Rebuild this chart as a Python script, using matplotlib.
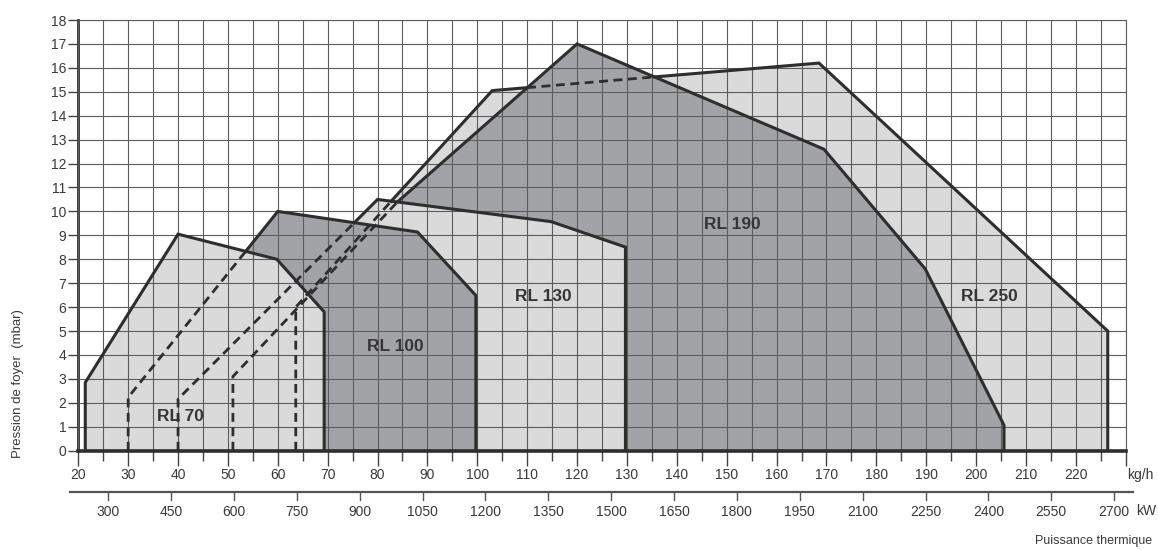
import numpy as np
import matplotlib
matplotlib.use('Agg')
import matplotlib.pyplot as plt
from matplotlib.path import Path
from matplotlib.transforms import blended_transform_factory

plt.rcParams['font.family'] = ['Liberation Sans', 'DejaVu Sans']

# ---------------- data (kg/h , mbar) ----------------
rl70_x = [21.4, 21.4, 40.0, 59.8, 69.3, 69.3]
rl70_y = [0.0, 2.85, 9.05, 8.0, 5.8, 0.0]

rl100_x = [30.0, 30.0, 60.0, 88.0, 99.7, 99.7]
rl100_y = [0.0, 2.23, 10.0, 9.14, 6.49, 0.0]

rl130_x = [40.0, 40.0, 80.0, 114.7, 129.7, 129.7]
rl130_y = [0.0, 2.16, 10.5, 9.58, 8.51, 0.0]

rl190_x = [51.0, 51.0, 84.0, 120.0, 169.5, 189.8, 205.6, 205.6]
rl190_y = [0.0, 3.1, 10.4, 17.0, 12.6, 7.6, 1.07, 0.0]

rl250_x = [63.6, 63.6, 82.7, 103.0, 168.5, 226.4, 226.4]
rl250_y = [0.0, 6.0, 10.42, 15.05, 16.2, 5.0, 0.0]

# back to front
burner_names = ['RL 250', 'RL 190', 'RL 130', 'RL 100', 'RL 70']
burner_xs = [rl250_x, rl190_x, rl130_x, rl100_x, rl70_x]
burner_ys = [rl250_y, rl190_y, rl130_y, rl100_y, rl70_y]
label_x = [202.7, 151.2, 113.3, 83.6, 40.5]
label_y = [6.44, 9.44, 6.44, 4.37, 1.42]

kgh_ticks = list(range(20, 231, 10))
kgh_labels = [str(v) for v in range(20, 221, 10)] + ['']
mbar_ticks = list(range(0, 19))
kw_ticks = [300, 450, 600, 750, 900, 1050, 1200, 1350, 1500, 1650, 1800,
            1950, 2100, 2250, 2400, 2550, 2700]


def kw_to_kgh(kw):
    return (kw + 9.4) / 11.9


# ---------------- style ----------------
LIGHT = '#dadada'
DARK = '#a2a3a6'
fills = [LIGHT, DARK, LIGHT, DARK, LIGHT]
EDGE = '#2e2e2e'
GRID = '#5c5c5c'
TXT = '#3a3a3a'

W, H = 1158, 550
fig = plt.figure(figsize=(W / 100, H / 100), dpi=100)
x0, x1, y0, y1 = 78.3, 1125.7, 450.7, 20.0
ax = fig.add_axes([x0 / W, 1 - y0 / H, (x1 - x0) / W, (y0 - y1) / H])
ax.set_xlim(20, 230)
ax.set_ylim(0, 18)

paths = [Path(np.column_stack([bx, by])) for bx, by in zip(burner_xs, burner_ys)]

# fills
for i, (bx, by) in enumerate(zip(burner_xs, burner_ys)):
    ax.fill(bx, by, color=fills[i], lw=0, zorder=1 + 0.1 * i)

# outlines: visible parts solid, hidden parts dashed
for i, (bx, by) in enumerate(zip(burner_xs, burner_ys)):
    front = paths[i + 1:]
    pts = []
    states = []
    for k in range(len(bx) - 1):
        xa, ya, xb, yb = bx[k], by[k], bx[k + 1], by[k + 1]
        if ya == 0 and yb == 0:
            continue
        n = 300
        t = np.linspace(0, 1, n + 1)
        xs = xa + (xb - xa) * t
        ys = ya + (yb - ya) * t
        for j in range(n):
            mx, my = (xs[j] + xs[j + 1]) / 2, (ys[j] + ys[j + 1]) / 2
            hidden = any(p.contains_point((mx, my)) for p in front)
            pts.append(((xs[j], ys[j]), (xs[j + 1], ys[j + 1])))
            states.append(hidden)
    # group
    runs = []
    cur = None
    for seg, st in zip(pts, states):
        if cur is not None and cur[0] == st and np.allclose(cur[1][-1], seg[0]):
            cur[1].append(seg[1])
        else:
            if cur is not None:
                runs.append(cur)
            cur = [st, [seg[0], seg[1]]]
    if cur is not None:
        runs.append(cur)
    for st, line in runs:
        arr = np.array(line)
        if st:
            ax.plot(arr[:, 0], arr[:, 1], color=EDGE, lw=2.0,
                    linestyle=(0, (3.2, 2.0)), zorder=3, solid_capstyle='butt')
        else:
            ax.plot(arr[:, 0], arr[:, 1], color=EDGE, lw=2.2, zorder=3.2,
                    solid_joinstyle='miter', solid_capstyle='projecting')

for name, lx, ly in zip(burner_names, label_x, label_y):
    ax.text(lx, ly, name, ha='center', va='center', fontsize=12.5,
            fontweight='bold', color='#353535', zorder=4)

# grid & ticks
ax.set_xticks(kgh_ticks)
ax.set_xticklabels(kgh_labels)
ax.set_xticks(list(range(25, 230, 10)), minor=True)
ax.set_yticks(mbar_ticks)
ax.set_axisbelow(False)
ax.grid(which='both', axis='x', color=GRID, lw=0.8)
ax.grid(which='major', axis='y', color=GRID, lw=0.8)
ax.tick_params(axis='x', which='major', length=10.8, width=1.0, color='#444',
               pad=1.5, labelsize=10, labelcolor=TXT, direction='out')
ax.tick_params(axis='x', which='minor', length=7.2, width=1.0, color='#444',
               direction='out')
ax.tick_params(axis='y', which='major', length=7.0, width=1.0, color='#444',
               pad=1.5, labelsize=10, labelcolor=TXT, direction='out')

ax.spines['left'].set_linewidth(2.0)
ax.spines['left'].set_color(EDGE)
ax.spines['bottom'].set_linewidth(2.6)
ax.spines['bottom'].set_color(EDGE)
ax.spines['bottom'].set_zorder(3.5)
for s in ('top', 'right'):
    ax.spines[s].set_linewidth(0.8)
    ax.spines[s].set_color(GRID)

# secondary kW scale (drawn manually)
trans = blended_transform_factory(ax.transData, ax.transAxes)
ah = y0 - y1
yl = (y0 - 492.3) / ah
yt = (y0 - 500.0) / ah
ylab = (y0 - 511.7) / ah
ax.plot([18.3, 231.5], [yl, yl], transform=trans, color='#555', lw=1.6,
        clip_on=False)
for kw in kw_ticks:
    xx = kw_to_kgh(kw)
    ax.plot([xx, xx], [yl, yt], transform=trans, color='#555', lw=1.0,
            clip_on=False)
    ax.text(xx, ylab, str(kw), transform=trans, ha='center', va='center',
            fontsize=10, color=TXT)

fig.text(1140 / W, 1 - 475 / H, 'kg/h', ha='center', va='center', fontsize=10,
         color=TXT)
fig.text(1146 / W, 1 - 511 / H, 'kW', ha='center', va='center', fontsize=10,
         color=TXT)
fig.text(1152 / W, 1 - 541 / H, 'Puissance thermique', ha='right', va='center',
         fontsize=9, color=TXT)
fig.text(18 / W, 1 - 384 / H, 'Pression de foyer  (mbar)', rotation=90,
         ha='center', va='center', fontsize=9.5, color=TXT)

fig.savefig('out.png', dpi=100)
